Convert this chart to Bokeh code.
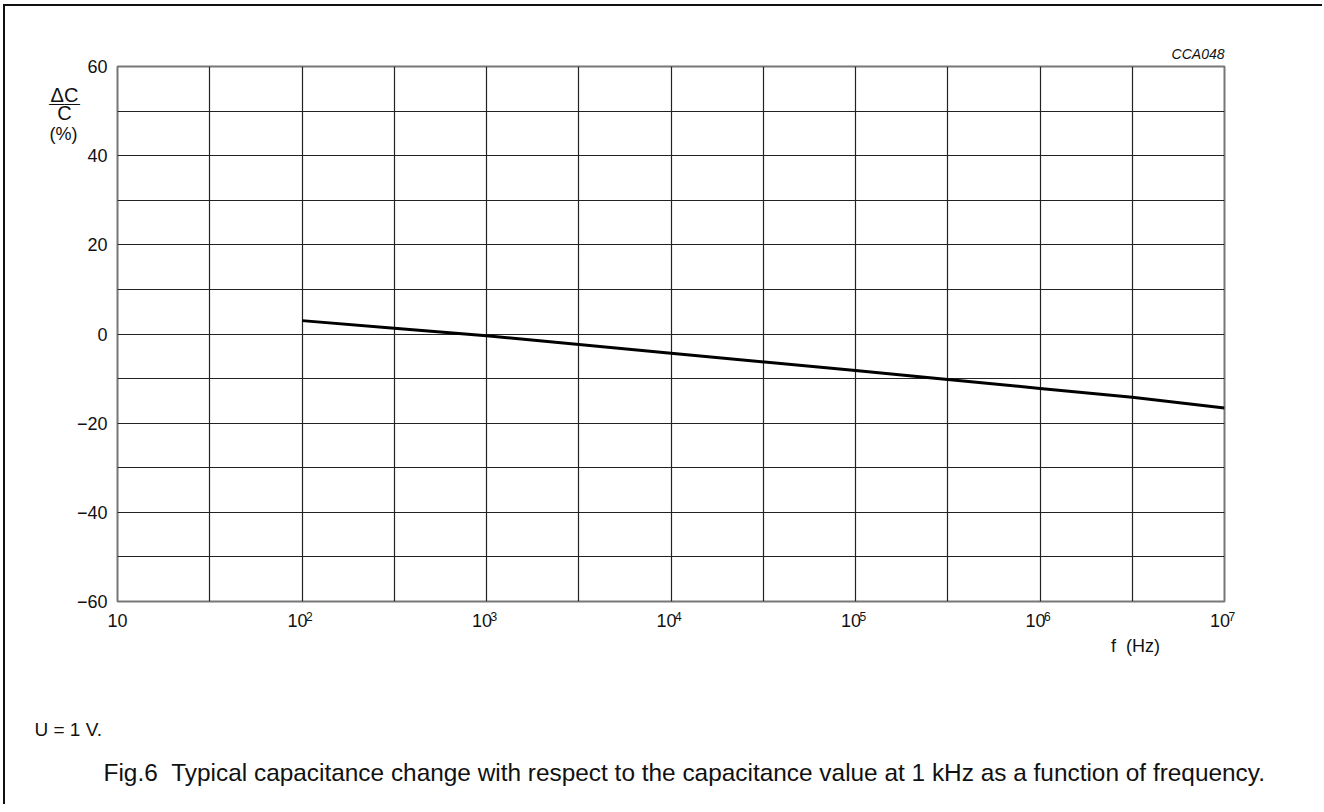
from bokeh.plotting import figure
from bokeh.models import FixedTicker, Label, Range1d
from bokeh.embed import file_html
from bokeh.resources import INLINE

# ---- data ----
freq_hz = [1e2, 3.16e2, 1e3, 1e4, 1e5, 3.16e5, 1e6, 3.16e6, 1e7]
delta_c_pct = [3.0, 1.3, -0.4, -4.3, -8.2, -10.2, -12.2, -14.2, -16.6]

x_ticks = [10, 100, 1e3, 1e4, 1e5, 1e6, 1e7]
x_tick_mantissa = ["10", "10\u2002", "10\u2002", "10\u2002", "10\u2002", "10\u2002", "10\u2002"]
x_tick_exponents = ["", "2", "3", "4", "5", "6", "7"]
x_grid = [10, 31.62, 100, 316.2, 1e3, 3162, 1e4, 31620, 1e5, 316200, 1e6, 3162000, 1e7]
y_ticks = [-60, -40, -20, 0, 20, 40, 60]
y_tick_labels = ["−60", "−40", "−20", "0", "20", "40", "60"]
y_grid = [-60, -50, -40, -30, -20, -10, 0, 10, 20, 30, 40, 50, 60]

FONT = "Liberation Sans"
OX, OY = 5, 6
W, H = 1319, 800
FL, FT, FW, FH = 117 - OX, 66 - OY, 1107, 535

p = figure(width=W, height=H, x_axis_type="log",
           x_range=Range1d(10, 1e7), y_range=Range1d(-60, 60),
           output_backend="svg", toolbar_location=None,
           min_border_left=FL, min_border_top=FT,
           min_border_right=W - FL - FW, min_border_bottom=H - FT - FH)
p.styles = {"border-left": "2px solid #111", "border-top": "2px solid #111",
            "margin-left": "3px", "margin-top": "4px"}
p.outline_line_color = "#777777"
p.outline_line_width = 2

p.xaxis.ticker = FixedTicker(ticks=x_ticks)
p.xaxis.major_label_overrides = dict(zip(x_ticks, x_tick_mantissa))
p.yaxis.ticker = FixedTicker(ticks=y_ticks)
p.yaxis.major_label_overrides = dict(zip(y_ticks, y_tick_labels))
for ax in (p.xaxis[0], p.yaxis[0]):
    ax.axis_line_color = None
    ax.major_tick_line_color = None
    ax.minor_tick_line_color = None
    ax.major_tick_out = 0
    ax.major_tick_in = 0
    ax.major_label_text_font = FONT
    ax.major_label_text_font_size = "18px"
    ax.major_label_text_color = "#111111"
p.xaxis.major_label_standoff = 9
p.yaxis.major_label_standoff = 10

p.xgrid.ticker = FixedTicker(ticks=x_grid)
p.ygrid.ticker = FixedTicker(ticks=y_grid)
for g in (p.xgrid[0], p.ygrid[0]):
    g.grid_line_color = "#222222"
    g.grid_line_width = 1.2

p.line(freq_hz, delta_c_pct, line_color="black", line_width=3)

# page pixel -> data coordinates (for text placed in the side panels)
def xd(px):
    return 10 ** (1 + (px - 117) / FW * 6)

def yd(py):
    return 60 - (py - 66) / FH * 120

def lab(text, px, py, size, panel, align="center", style="normal", baseline="middle"):
    p.add_layout(Label(x=xd(px), y=yd(py), text=text, text_font=FONT,
                       text_font_size=size, text_align=align,
                       text_baseline=baseline, text_color="#111111",
                       text_font_style=style), panel)

# exponents of the decade tick labels
for t, e in zip(x_ticks, x_tick_exponents):
    if e:
        p.add_layout(Label(x=t, y=yd(611), x_offset=4, text=e, text_font=FONT,
                           text_font_size="12px", text_align="left",
                           text_baseline="top", text_color="#111111"), "below")

# the stacked "ΔC / C (%)" quantity label, spread over panels with spare room
lab("ΔC", 64, 94, "20px", "left")
lab("——", 64, 102, "15.5px", "above")
lab("C", 64, 112, "20px", "right")
lab("(%)", 63, 133, "18px", "right")
lab("CCA048", 1224, 53, "14px", "above", align="right", style="italic")
lab("f\u00a0\u00a0(Hz)", 1135, 645, "18px", "below")
lab("U = 1 V.", 34, 729, "19px", "below", align="left")
lab("Fig.6\u00a0\u00a0Typical capacitance change with respect to the capacitance value at 1 kHz as a function of frequency.",
    103, 772, "24.4px", "below", align="left")

open("out.html", "w").write(file_html(p, INLINE))
